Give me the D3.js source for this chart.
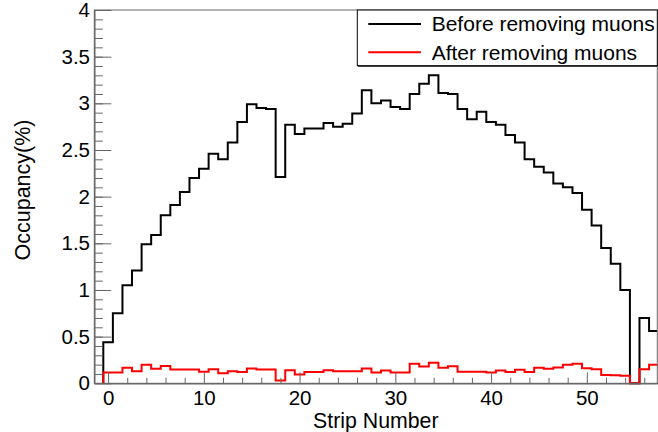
<!DOCTYPE html>
<html>
<head>
<meta charset="utf-8">
<script src="https://cdn.jsdelivr.net/npm/d3@7"></script>
<style>
  body { margin: 0; background: #fff; }
  svg { display: block; font-family: "Liberation Sans", Arial, sans-serif; }
</style>
</head>
<body>
<div id="chart"></div>
<script>
// occupancy per strip (%), strips 0..57
const strips = d3.range(0, 58);
const beforeMuons = [
  0.44, 0.75, 1.05, 1.21, 1.49, 1.59, 1.80, 1.91, 2.05, 2.20,
  2.30, 2.46, 2.40, 2.58, 2.80, 2.99, 2.95, 2.94, 2.21, 2.77,
  2.67, 2.73, 2.73, 2.79, 2.75, 2.78, 2.89, 3.14, 3.00, 3.03,
  2.96, 2.94, 3.10, 3.21, 3.30, 3.11, 3.10, 2.94, 2.83, 2.91,
  2.80, 2.77, 2.66, 2.58, 2.40, 2.32, 2.26, 2.14, 2.10, 2.04,
  1.86, 1.69, 1.45, 1.28, 1.00, 0.00, 0.70, 0.56
];
const afterMuons = [
  0.117, 0.117, 0.167, 0.128, 0.198, 0.155, 0.186, 0.148, 0.148, 0.148,
  0.124, 0.151, 0.109, 0.128, 0.120, 0.159, 0.148, 0.148, 0.031, 0.140,
  0.093, 0.120, 0.120, 0.140, 0.128, 0.128, 0.128, 0.159, 0.117, 0.136,
  0.117, 0.117, 0.210, 0.179, 0.221, 0.167, 0.183, 0.124, 0.124, 0.124,
  0.117, 0.136, 0.120, 0.144, 0.120, 0.167, 0.155, 0.170, 0.200, 0.210,
  0.160, 0.150, 0.090, 0.085, 0.080, 0.000, 0.150, 0.200
];
const seriesNames = ['Before removing muons', 'After removing muons'];
const seriesColors = ['#000000', '#ff0000'];
const xMajorTicks = [0, 10, 20, 30, 40, 50];
const xMinorTicks = d3.range(2, 57, 2).filter((d) => d % 10 !== 0);
const yMajorTicks = [0, 0.5, 1, 1.5, 2, 2.5, 3, 3.5, 4];
const yMinorTicks = d3.range(1, 40).map((d) => d / 10);

const width = 658;
const height = 432;
const frame = { left: 94.3, right: 657.3, top: 10, bottom: 383.3 };

const x = d3.scaleLinear().domain([-1.44, 57.36]).range([frame.left, frame.right]);
const y = d3.scaleLinear().domain([0, 4]).range([frame.bottom, frame.top]);

const svg = d3.select('#chart')
  .append('svg')
  .attr('width', width)
  .attr('height', height);

svg.append('defs').append('clipPath')
  .attr('id', 'frame-clip')
  .append('rect')
  .attr('x', frame.left)
  .attr('y', frame.top - 2)
  .attr('width', frame.right - frame.left)
  .attr('height', frame.bottom - frame.top + 4);

function histPoints(values) {
  const pts = [[-0.5, 0]];
  values.forEach((v, i) => pts.push([strips[i] - 0.5, v]));
  pts.push([strips[strips.length - 1] + 0.5, values[values.length - 1]]);
  return pts;
}

const line = d3.line()
  .x((d) => x(d[0]))
  .y((d) => y(d[1]))
  .curve(d3.curveStepAfter);

const plot = svg.append('g').attr('clip-path', 'url(#frame-clip)');
[beforeMuons, afterMuons].forEach((values, i) => {
  plot.append('path')
    .attr('d', line(histPoints(values)))
    .attr('fill', 'none')
    .attr('stroke', seriesColors[i])
    .attr('stroke-width', 2);
});

// frame
svg.append('rect')
  .attr('x', frame.left)
  .attr('y', frame.top)
  .attr('width', frame.right - frame.left)
  .attr('height', frame.bottom - frame.top)
  .attr('fill', 'none')
  .attr('stroke', '#666')
  .attr('stroke-width', 1);

// x axis (ticks inside the frame)
svg.append('g')
  .attr('transform', `translate(0,${frame.bottom})`)
  .call(d3.axisBottom(x).tickValues(xMajorTicks).tickSize(-11).tickSizeOuter(0).tickPadding(7));
svg.append('g')
  .attr('transform', `translate(0,${frame.bottom})`)
  .call(d3.axisBottom(x).tickValues(xMinorTicks).tickSize(-5.5).tickSizeOuter(0).tickFormat(''));

// y axis
svg.append('g')
  .attr('transform', `translate(${frame.left},0)`)
  .call(d3.axisLeft(y).tickValues(yMajorTicks).tickSize(-17).tickSizeOuter(0).tickPadding(4.3)
    .tickFormat((d) => String(d)));
svg.append('g')
  .attr('transform', `translate(${frame.left},0)`)
  .call(d3.axisLeft(y).tickValues(yMinorTicks).tickSize(-8.5).tickSizeOuter(0).tickFormat(''));

svg.selectAll('.domain').attr('stroke', '#666');
svg.selectAll('.tick line').attr('stroke', '#666');
svg.selectAll('.tick text')
  .attr('font-family', '"Liberation Sans", Arial, sans-serif')
  .attr('font-size', 20.5)
  .attr('fill', '#000');

// axis titles
svg.append('text')
  .attr('x', (frame.left + frame.right) / 2)
  .attr('y', 428)
  .attr('text-anchor', 'middle')
  .attr('font-size', 21.3)
  .text('Strip Number');

svg.append('text')
  .attr('transform', 'translate(22.5,190) rotate(-90)')
  .attr('text-anchor', 'middle')
  .attr('dy', '0.35em')
  .attr('font-size', 21.5)
  .text('Occupancy(%)');

// legend
const legend = svg.append('g');
legend.append('rect')
  .attr('x', 357.3)
  .attr('y', frame.top)
  .attr('width', frame.right - 357.3)
  .attr('height', 55.7)
  .attr('fill', '#fff')
  .attr('stroke', '#000')
  .attr('stroke-width', 1);
legend.append('line')
  .attr('x1', 358).attr('x2', frame.right)
  .attr('y1', 66.2).attr('y2', 66.2)
  .attr('stroke', '#000')
  .attr('stroke-width', 1);

seriesNames.forEach((name, i) => {
  const ly = 24 + i * 28.3;
  legend.append('line')
    .attr('x1', 368.3).attr('x2', 421)
    .attr('y1', ly).attr('y2', ly)
    .attr('stroke', seriesColors[i])
    .attr('stroke-width', 2);
  legend.append('text')
    .attr('x', 431.7)
    .attr('y', ly)
    .attr('dy', '0.35em')
    .attr('font-size', 21)
    .text(name);
});
</script>
</body>
</html>
